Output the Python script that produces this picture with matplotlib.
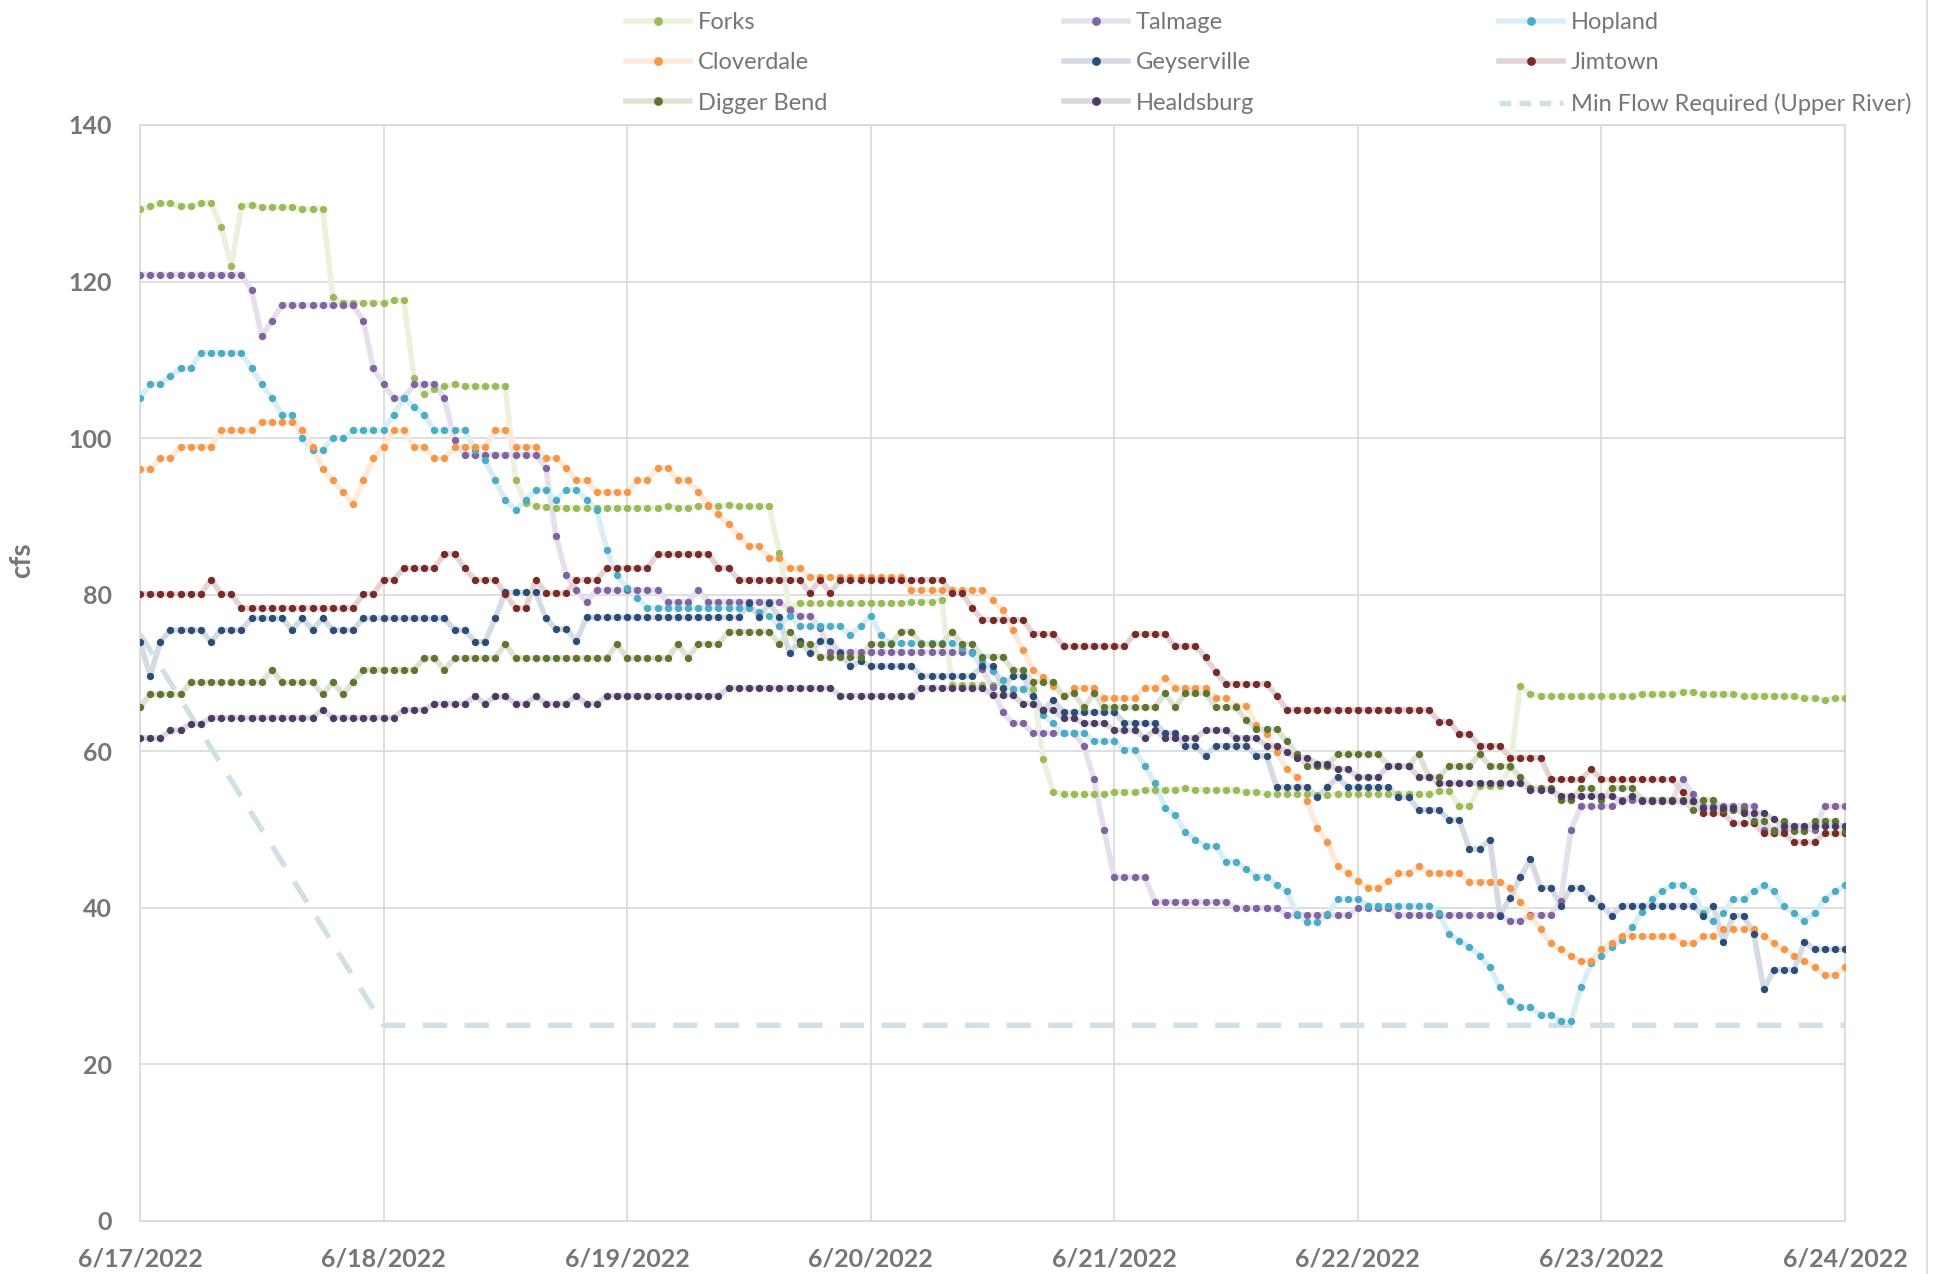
import matplotlib
matplotlib.use("Agg")
import matplotlib.pyplot as plt
import matplotlib.colors as mcolors
from matplotlib.lines import Line2D
import numpy as np
import pandas as pd

plt.rcParams['font.family'] = ['Lato', 'DejaVu Sans']

# hourly flows (cfs), 6/17/2022 00:00 .. 6/24/2022 00:00
forks = [
    129.3, 129.6, 130.0, 130.0, 129.6, 129.6, 130.0, 130.0, 127.0, 122.0, 129.6, 129.8,
    129.5, 129.5, 129.5, 129.5, 129.3, 129.3, 129.3, 118.0, 117.3, 117.3, 117.3, 117.3,
    117.3, 117.6, 117.6, 107.7, 105.6, 106.3, 106.6, 106.9, 106.6, 106.6, 106.6, 106.6,
    106.6, 94.6, 91.7, 91.3, 91.2, 91.1, 91.1, 91.1, 91.1, 91.1, 91.1, 91.1,
    91.1, 91.1, 91.1, 91.1, 91.35, 91.1, 91.1, 91.35, 91.35, 91.35, 91.5, 91.3,
    91.3, 91.3, 91.3, 85.3, 78.2, 79.0, 78.9, 78.9, 78.9, 78.9, 78.9, 78.9,
    78.9, 78.9, 78.9, 78.9, 79.1, 79.1, 79.1, 79.3, 68.5, 68.5, 68.5, 68.5,
    68.5, 68.0, 68.0, 68.0, 68.0, 59.0, 54.8, 54.6, 54.6, 54.6, 54.6, 54.6,
    54.8, 54.8, 54.8, 55.0, 55.1, 55.1, 55.1, 55.3, 55.1, 55.1, 55.1, 55.1,
    55.0, 54.8, 54.8, 54.6, 54.6, 54.6, 54.6, 54.6, 54.4, 54.4, 54.6, 54.6,
    54.6, 54.6, 54.6, 54.6, 54.6, 54.6, 54.6, 54.6, 54.9, 54.9, 53.0, 53.0,
    55.6, 55.6, 55.6, 58.0, 68.3, 67.3, 67.1, 67.1, 67.1, 67.1, 67.1, 67.1,
    67.1, 67.1, 67.1, 67.1, 67.3, 67.3, 67.3, 67.3, 67.6, 67.6, 67.3, 67.3,
    67.3, 67.3, 67.1, 67.1, 67.1, 67.1, 67.1, 67.1, 66.8, 66.8, 66.5, 66.8,
    66.8]
talmage = [
    120.9, 120.9, 120.9, 120.9, 120.9, 120.9, 120.9, 120.9, 120.9, 120.9, 120.9, 118.9,
    113.0, 115.0, 117.0, 117.0, 117.0, 117.0, 117.0, 117.0, 117.0, 117.0, 115.0, 108.9,
    106.9, 105.1, 105.1, 106.9, 106.9, 106.9, 105.1, 99.7, 97.9, 97.9, 97.9, 97.9,
    97.9, 97.9, 97.9, 97.9, 96.2, 87.5, 82.5, 80.6, 79.1, 80.6, 80.6, 80.6,
    80.6, 80.6, 80.6, 80.6, 79.1, 79.1, 79.1, 80.6, 79.1, 79.1, 79.1, 79.1,
    79.1, 79.1, 79.1, 79.1, 78.0, 77.3, 77.3, 75.8, 72.7, 72.7, 72.7, 72.7,
    72.7, 72.7, 72.7, 72.7, 72.7, 72.7, 72.7, 72.7, 72.7, 72.7, 72.7, 70.5,
    68.2, 65.0, 63.6, 63.6, 62.3, 62.3, 62.3, 62.3, 62.3, 60.7, 56.4, 49.9,
    43.9, 43.9, 43.9, 43.9, 40.8, 40.8, 40.8, 40.8, 40.8, 40.8, 40.8, 40.8,
    40.0, 40.0, 40.0, 40.0, 40.0, 39.1, 39.1, 39.1, 39.1, 39.1, 39.1, 39.1,
    40.0, 40.0, 40.0, 40.0, 39.1, 39.1, 39.1, 39.1, 39.1, 39.1, 39.1, 39.1,
    39.1, 39.1, 39.1, 38.3, 38.3, 39.1, 39.1, 39.1, 40.9, 50.0, 53.0, 53.0,
    53.0, 53.0, 53.8, 53.8, 53.8, 53.8, 53.8, 53.8, 56.4, 54.5, 53.0, 53.0,
    53.0, 53.0, 53.0, 53.0, 50.0, 50.0, 50.0, 50.0, 50.0, 50.0, 53.0, 53.0,
    53.0]
hopland = [
    105.1, 106.9, 106.9, 107.9, 108.9, 108.9, 110.9, 110.9, 110.9, 110.9, 110.9, 108.9,
    106.9, 105.1, 103.0, 103.0, 100.0, 98.5, 98.5, 100.0, 100.0, 101.0, 101.0, 101.0,
    101.0, 103.0, 105.1, 104.0, 103.0, 101.0, 101.0, 101.0, 101.0, 98.5, 97.2, 94.6,
    92.1, 90.8, 92.1, 93.4, 93.4, 92.1, 93.4, 93.4, 92.1, 90.8, 85.7, 82.5,
    80.8, 79.6, 78.3, 78.3, 78.3, 78.3, 78.3, 78.3, 78.3, 78.3, 78.3, 78.3,
    78.3, 77.8, 77.3, 76.0, 77.3, 76.0, 76.0, 76.0, 76.0, 76.0, 74.8, 76.0,
    77.3, 74.8, 73.8, 73.8, 73.8, 73.8, 73.8, 73.8, 73.8, 73.2, 72.5, 71.5,
    70.2, 69.1, 68.0, 68.0, 67.0, 64.6, 63.6, 62.3, 62.3, 62.3, 61.3, 61.3,
    61.3, 60.2, 60.2, 58.1, 55.9, 52.8, 51.8, 49.7, 48.7, 47.9, 47.9, 45.9,
    45.9, 44.9, 44.0, 44.0, 42.9, 42.1, 39.2, 38.2, 38.2, 39.2, 41.1, 41.1,
    41.1, 40.3, 40.3, 40.3, 40.3, 40.3, 40.3, 40.3, 39.3, 36.7, 35.8, 35.0,
    33.9, 32.4, 29.9, 28.1, 27.3, 27.3, 26.3, 26.3, 25.5, 25.5, 29.9, 32.9,
    33.9, 35.0, 35.9, 37.5, 39.5, 41.1, 42.1, 42.9, 42.9, 42.1, 39.3, 38.3,
    39.3, 41.1, 41.1, 42.1, 42.9, 42.1, 40.2, 39.3, 38.3, 39.3, 41.1, 42.1,
    42.9]
cloverdale = [
    96.1, 96.1, 97.4, 97.4, 98.9, 98.9, 98.9, 98.9, 101.0, 101.0, 101.0, 101.0,
    102.0, 102.0, 102.0, 102.0, 101.0, 98.9, 96.1, 94.6, 93.1, 91.6, 94.6, 97.4,
    98.9, 101.0, 101.0, 98.9, 98.9, 97.4, 97.4, 98.9, 98.9, 98.9, 98.9, 101.0,
    101.0, 98.9, 98.9, 98.9, 97.4, 97.4, 96.2, 94.6, 94.6, 93.1, 93.1, 93.1,
    93.1, 94.6, 94.6, 96.2, 96.2, 94.6, 94.6, 93.1, 91.5, 90.3, 89.0, 87.5,
    86.2, 86.2, 84.7, 84.7, 83.4, 83.4, 82.2, 82.2, 82.2, 82.2, 82.2, 82.2,
    82.2, 82.2, 82.2, 82.2, 80.6, 80.6, 80.6, 80.6, 80.6, 80.6, 80.6, 80.6,
    79.3, 78.0, 75.5, 72.9, 70.4, 69.5, 68.3, 67.0, 68.1, 68.1, 68.1, 66.8,
    66.8, 66.8, 66.8, 68.1, 68.1, 69.4, 68.1, 68.1, 68.1, 68.1, 66.8, 66.8,
    65.8, 65.8, 63.3, 62.2, 59.9, 57.7, 56.7, 53.6, 50.2, 48.4, 45.4, 44.4,
    43.4, 42.6, 42.6, 43.4, 44.4, 44.4, 45.4, 44.4, 44.4, 44.4, 44.4, 43.3,
    43.3, 43.3, 43.3, 42.6, 40.8, 39.0, 37.3, 35.5, 34.7, 33.9, 33.2, 33.2,
    34.7, 35.5, 36.4, 36.4, 36.4, 36.4, 36.4, 36.4, 35.5, 35.5, 36.4, 36.4,
    37.3, 37.3, 37.3, 37.3, 36.4, 35.5, 34.7, 33.9, 33.2, 32.4, 31.4, 31.4,
    32.4]
geyserville = [
    74.0, 69.6, 74.0, 75.5, 75.5, 75.5, 75.5, 74.0, 75.5, 75.5, 75.5, 77.0,
    77.0, 77.0, 77.0, 75.5, 77.0, 75.5, 77.0, 75.5, 75.5, 75.5, 77.0, 77.0,
    77.0, 77.0, 77.0, 77.0, 77.0, 77.0, 77.0, 75.5, 75.5, 74.0, 74.0, 77.0,
    80.3, 80.3, 80.3, 80.3, 77.0, 75.6, 75.6, 74.1, 77.1, 77.1, 77.1, 77.1,
    77.1, 77.1, 77.1, 77.1, 77.1, 77.1, 77.1, 77.1, 77.1, 77.1, 77.1, 77.1,
    78.9, 77.1, 78.9, 77.1, 72.5, 74.1, 72.5, 74.1, 74.1, 72.5, 70.9, 71.5,
    70.9, 70.9, 70.9, 70.9, 70.9, 69.6, 69.6, 69.6, 69.6, 69.6, 69.6, 70.9,
    70.9, 68.1, 69.6, 69.6, 67.0, 65.3, 66.5, 65.0, 65.0, 65.0, 65.0, 65.0,
    65.0, 63.6, 63.6, 63.6, 63.6, 62.3, 62.3, 60.7, 60.7, 59.4, 60.7, 60.7,
    60.7, 60.7, 59.4, 59.4, 55.4, 55.4, 55.4, 55.4, 54.1, 55.4, 56.7, 55.4,
    55.4, 55.4, 55.4, 55.4, 54.1, 54.1, 52.5, 52.5, 52.5, 51.2, 51.2, 47.5,
    47.5, 48.7, 39.0, 41.3, 43.9, 46.2, 42.6, 42.6, 40.3, 42.6, 42.6, 41.3,
    40.3, 39.0, 40.3, 40.3, 40.3, 40.3, 40.3, 40.3, 40.3, 40.3, 39.0, 40.3,
    35.7, 39.0, 39.0, 36.7, 29.6, 32.1, 32.1, 32.1, 35.7, 34.7, 34.7, 34.7,
    34.7]
jimtown = [
    80.1, 80.1, 80.1, 80.1, 80.1, 80.1, 80.1, 81.9, 80.1, 80.1, 78.3, 78.3,
    78.3, 78.3, 78.3, 78.3, 78.3, 78.3, 78.3, 78.3, 78.3, 78.3, 80.1, 80.1,
    81.9, 81.9, 83.4, 83.4, 83.4, 83.4, 85.2, 85.2, 83.4, 81.9, 81.9, 81.9,
    80.1, 78.3, 78.3, 81.9, 80.2, 80.2, 80.2, 81.9, 81.9, 81.9, 83.4, 83.4,
    83.4, 83.4, 83.4, 85.2, 85.2, 85.2, 85.2, 85.2, 85.2, 83.4, 83.4, 81.9,
    81.9, 81.9, 81.9, 81.9, 81.9, 81.9, 80.2, 81.9, 80.2, 81.9, 81.9, 81.9,
    81.9, 81.9, 81.9, 81.9, 81.9, 81.9, 81.9, 81.9, 80.2, 80.2, 78.3, 76.8,
    76.8, 76.8, 76.8, 76.8, 75.0, 75.0, 75.0, 73.4, 73.4, 73.4, 73.4, 73.4,
    73.4, 73.4, 75.0, 75.0, 75.0, 75.0, 73.4, 73.4, 73.4, 72.0, 70.1, 68.6,
    68.6, 68.6, 68.6, 68.6, 67.1, 65.3, 65.3, 65.3, 65.3, 65.3, 65.3, 65.3,
    65.3, 65.3, 65.3, 65.3, 65.3, 65.3, 65.3, 65.3, 63.8, 63.8, 62.2, 62.2,
    60.7, 60.7, 60.7, 59.2, 59.2, 59.2, 59.2, 56.4, 56.4, 56.4, 56.4, 57.7,
    56.4, 56.4, 56.4, 56.4, 56.4, 56.4, 56.4, 56.4, 54.8, 53.6, 52.1, 52.1,
    52.1, 50.8, 50.8, 50.8, 49.5, 49.5, 49.5, 48.4, 48.4, 48.4, 49.5, 49.5,
    49.5]
digger_bend = [
    65.6, 67.3, 67.3, 67.3, 67.3, 68.8, 68.8, 68.8, 68.8, 68.8, 68.8, 68.8,
    68.8, 70.4, 68.8, 68.8, 68.8, 68.8, 67.3, 68.8, 67.3, 68.8, 70.4, 70.4,
    70.4, 70.4, 70.4, 70.4, 71.9, 71.9, 70.4, 71.9, 71.9, 71.9, 71.9, 71.9,
    73.7, 71.9, 71.9, 71.9, 71.9, 71.9, 71.9, 71.9, 71.9, 71.9, 71.9, 73.7,
    71.9, 71.9, 71.9, 71.9, 71.9, 73.7, 71.9, 73.7, 73.7, 73.7, 75.3, 75.3,
    75.3, 75.3, 75.3, 73.7, 75.3, 73.7, 73.7, 72.1, 72.1, 72.1, 72.1, 72.1,
    73.7, 73.7, 73.7, 75.3, 75.3, 73.7, 73.7, 73.7, 75.3, 73.7, 73.7, 72.1,
    72.1, 72.1, 70.4, 70.4, 68.9, 68.9, 68.9, 67.0, 67.4, 65.6, 67.4, 65.6,
    65.6, 65.6, 65.6, 65.6, 65.6, 67.4, 65.6, 67.4, 67.4, 67.4, 65.6, 65.6,
    65.6, 64.0, 62.8, 62.8, 62.8, 61.3, 59.7, 58.1, 58.1, 58.1, 59.7, 59.7,
    59.7, 59.7, 59.7, 58.1, 58.1, 58.1, 59.7, 56.7, 56.7, 58.1, 58.1, 58.1,
    59.7, 58.1, 58.1, 58.1, 56.7, 55.3, 55.3, 55.3, 53.8, 53.8, 55.3, 55.3,
    53.8, 55.3, 55.3, 55.3, 53.8, 53.8, 53.8, 53.8, 53.8, 52.5, 53.8, 53.8,
    52.5, 52.5, 52.5, 51.1, 51.1, 49.8, 51.1, 49.8, 49.8, 51.1, 51.1, 51.1,
    49.8]
healdsburg = [
    61.7, 61.7, 61.7, 62.7, 62.7, 63.5, 63.5, 64.3, 64.3, 64.3, 64.3, 64.3,
    64.3, 64.3, 64.3, 64.3, 64.3, 64.3, 65.3, 64.3, 64.3, 64.3, 64.3, 64.3,
    64.3, 64.3, 65.3, 65.3, 65.3, 66.1, 66.1, 66.1, 66.1, 67.0, 66.1, 67.0,
    67.0, 66.1, 66.1, 67.0, 66.1, 66.1, 66.1, 67.1, 66.1, 66.1, 67.1, 67.1,
    67.1, 67.1, 67.1, 67.1, 67.1, 67.1, 67.1, 67.1, 67.1, 67.1, 68.1, 68.1,
    68.1, 68.1, 68.1, 68.1, 68.1, 68.1, 68.1, 68.1, 68.1, 67.1, 67.1, 67.1,
    67.1, 67.1, 67.1, 67.1, 67.1, 68.1, 68.1, 68.1, 68.1, 68.1, 68.1, 68.1,
    67.2, 67.2, 67.2, 66.1, 66.1, 65.3, 65.3, 64.2, 64.2, 63.6, 63.6, 63.6,
    62.7, 62.7, 62.7, 61.7, 62.7, 61.7, 61.7, 61.7, 61.7, 62.7, 62.7, 62.7,
    61.7, 61.7, 61.7, 60.7, 60.7, 59.9, 59.2, 59.2, 58.4, 58.4, 57.7, 57.7,
    56.7, 56.7, 56.7, 58.1, 58.1, 58.1, 56.7, 56.7, 55.9, 55.9, 55.9, 55.9,
    55.9, 55.9, 55.9, 55.9, 55.9, 55.1, 55.1, 55.1, 54.3, 54.3, 54.3, 54.3,
    54.3, 54.3, 53.6, 54.3, 53.6, 53.6, 53.6, 53.6, 53.6, 53.6, 52.8, 52.8,
    52.8, 52.8, 52.1, 52.1, 52.1, 51.3, 50.5, 50.5, 50.5, 50.5, 50.5, 50.5,
    50.5]

min_flow_times = ["2022-06-17 00:00", "2022-06-18 00:00", "2022-06-24 00:00"]
min_flow = [75, 25, 25]

series_names = ["Forks", "Talmage", "Hopland", "Cloverdale", "Geyserville",
                "Jimtown", "Digger Bend", "Healdsburg"]
series_values = [forks, talmage, hopland, cloverdale, geyserville,
                 jimtown, digger_bend, healdsburg]
series_colors = ["#9BBB59", "#8064A2", "#4BACC6", "#F79646", "#2C4D75",
                 "#772C2A", "#5F7530", "#4D3B62"]
day_labels = ["6/17/2022", "6/18/2022", "6/19/2022", "6/20/2022",
              "6/21/2022", "6/22/2022", "6/23/2022", "6/24/2022"]

times = pd.date_range("2022-06-17", periods=len(forks), freq="h")
days = pd.date_range("2022-06-17", periods=len(day_labels), freq="D")


def tint(c, a=0.2):
    r = np.array(mcolors.to_rgb(c))
    return tuple(1 - a * (1 - r))


W, H = 1947, 1274
fig = plt.figure(figsize=(W / 100, H / 100), dpi=100)
ax = fig.add_axes([140 / W, 1 - 1221 / H, 1705 / W, 1096 / H])

grey = "#767676"
grid_c = "#D9D9D9"
LW = 4.0
MS = 5.3

ax.plot(pd.to_datetime(min_flow_times), min_flow, color="#D0E0E4", lw=3.8,
        dashes=(4.6, 3.3), dash_capstyle="butt", zorder=1.5)

handles = {}
for name, vals, col in zip(series_names, series_values, series_colors):
    ax.plot(times, vals, color=tint(col), lw=LW, solid_joinstyle="round", zorder=2)
    ax.plot(times, vals, "o", color=col, ms=MS, mew=0, zorder=3)
    handles[name] = Line2D([], [], color=tint(col), lw=LW, marker="o", ms=MS,
                           mfc=col, mec=col)
handles["Min Flow Required (Upper River)"] = Line2D(
    [], [], color="#D0E0E4", lw=3.8, dashes=(2.2, 1.6), dash_capstyle="butt")

ax.set_xlim(days[0], days[-1])
ax.set_ylim(0, 140)
ax.set_yticks(np.arange(0, 141, 20))
ax.set_xticks(days, day_labels)
ax.grid(True, color=grid_c, lw=1.2, zorder=0)
ax.set_axisbelow(True)
for s in ax.spines.values():
    s.set_color(grid_c)
    s.set_linewidth(1.2)
ax.tick_params(length=0, labelsize=18, labelcolor=grey)
ax.tick_params(axis="y", pad=20)
ax.tick_params(axis="x", pad=19)
for lab in ax.get_xticklabels() + ax.get_yticklabels():
    lab.set_fontweight("bold")

ax.set_ylabel("cfs", fontsize=20, fontweight="bold", color=grey)
ax.yaxis.set_label_coords(-0.0616, 0.603)

# legend: three columns placed like the original
legend_cols = [["Forks", "Cloverdale", "Digger Bend"],
               ["Talmage", "Geyserville", "Healdsburg"],
               ["Hopland", "Jimtown", "Min Flow Required (Upper River)"]]
col_x = [626, 1064, 1499]
for names, x in zip(legend_cols, col_x):
    fig.legend([handles[n] for n in names], names, loc="upper left",
               bbox_to_anchor=(x / W, 1 - 12 / H), frameon=False,
               borderpad=0, borderaxespad=0, fontsize=17,
               labelcolor=grey, handlelength=2.7, handletextpad=0.35,
               labelspacing=0.82)

fig.add_artist(Line2D([1927 / W, 1927 / W], [0, 1], color=grid_c, lw=1.2,
                      transform=fig.transFigure))

fig.savefig("out.png", dpi=100)
